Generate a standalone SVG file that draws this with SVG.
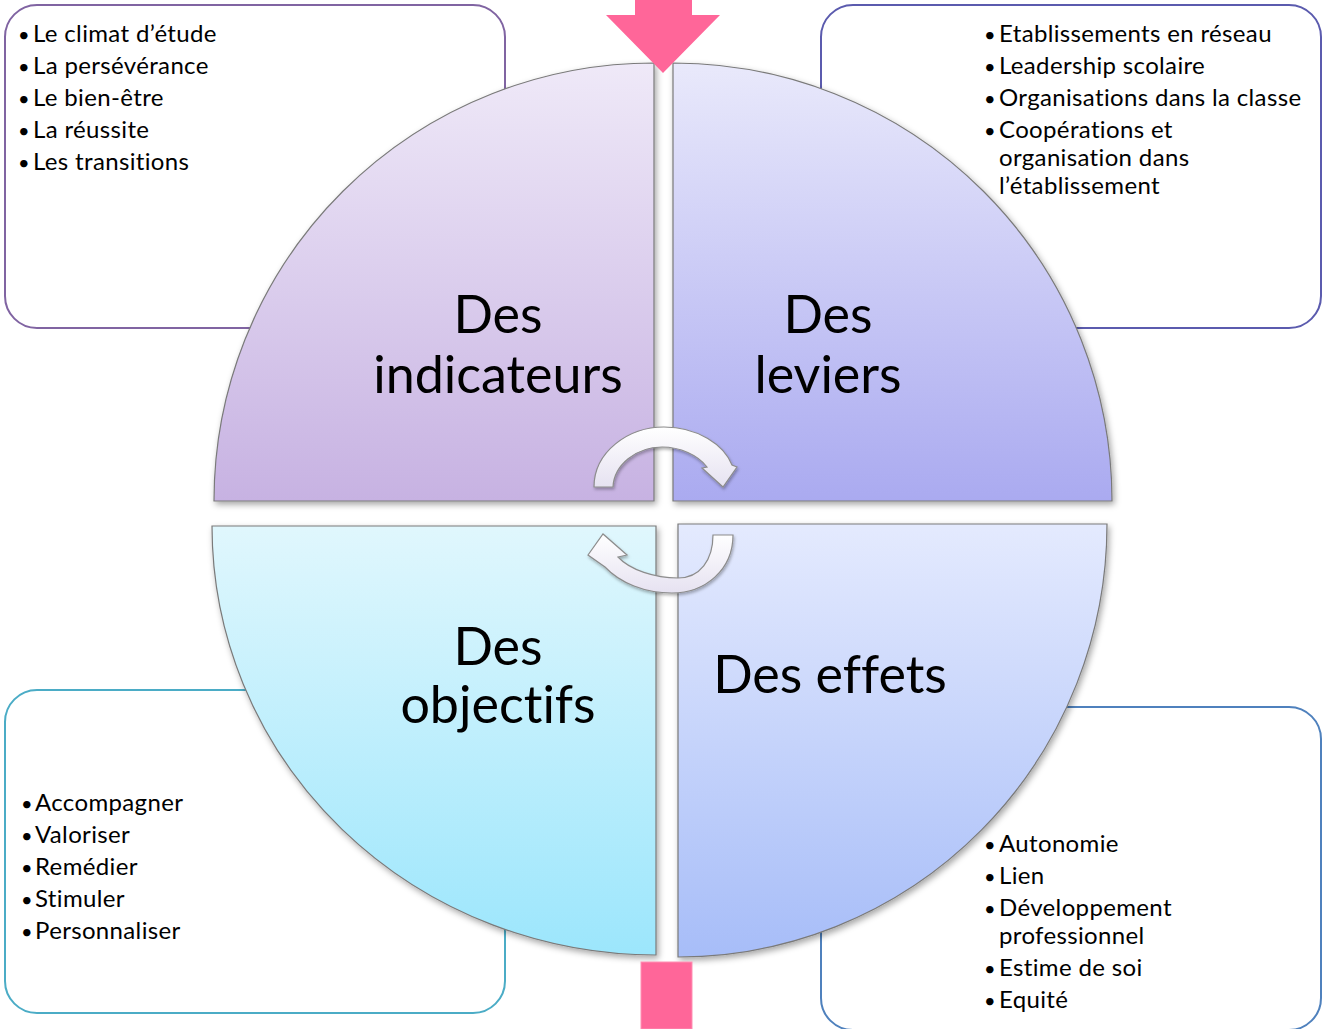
<svg xmlns="http://www.w3.org/2000/svg" width="1328" height="1029" viewBox="0 0 1328 1029">
<defs>
<linearGradient id="gTL" x1="0" y1="0" x2="0" y2="1"><stop offset="0" stop-color="#EFE9F8"/><stop offset="1" stop-color="#C7B2E2"/></linearGradient>
<linearGradient id="gTR" x1="0" y1="0" x2="0" y2="1"><stop offset="0" stop-color="#E9E9FB"/><stop offset="1" stop-color="#AAAAF0"/></linearGradient>
<linearGradient id="gBL" x1="0" y1="0" x2="0" y2="1"><stop offset="0" stop-color="#E0F7FD"/><stop offset="1" stop-color="#9CE6FC"/></linearGradient>
<linearGradient id="gBR" x1="0" y1="0" x2="0" y2="1"><stop offset="0" stop-color="#E4EAFE"/><stop offset="1" stop-color="#A7BDF8"/></linearGradient>
<linearGradient id="gArr" x1="0" y1="0" x2="0" y2="1"><stop offset="0" stop-color="#FFFFFF"/><stop offset="1" stop-color="#E6E2F1"/></linearGradient>
<filter id="sh" x="-10%" y="-10%" width="120%" height="120%"><feDropShadow dx="2" dy="3" stdDeviation="3" flood-color="#000" flood-opacity="0.35"/></filter>
<filter id="sh2" x="-20%" y="-20%" width="140%" height="140%"><feDropShadow dx="1" dy="2" stdDeviation="1.5" flood-color="#000" flood-opacity="0.3"/></filter>
</defs>
<style>
.box{fill:#FFFFFF;stroke-width:2}
.q{stroke:#7A7A7A;stroke-width:1.2;filter:url(#sh)}
.t{font-family:Lato,"Noto Sans",sans-serif;font-size:24px;letter-spacing:0.35px;fill:#000;font-variant-ligatures:none}
.b{font-family:Lato,"Noto Sans",sans-serif;font-size:20px;fill:#000}
.big{font-family:Lato,"Noto Sans",sans-serif;font-size:52px;fill:#000;text-anchor:middle;font-variant-ligatures:none}
.arr{fill:url(#gArr);stroke:#8C8C8C;stroke-width:1.2;filter:url(#sh2)}
.pink{fill:#FF6699}
</style>
<rect width="1328" height="1029" fill="#FFFFFF"/>

<g id="box-indicateurs">
<rect class="box" x="5" y="5" width="500" height="323" rx="32" stroke="#8064A2"/>
<text class="b" x="18" y="42">•</text><text class="t" x="33" y="42">Le climat d’étude</text>
<text class="b" x="18" y="74">•</text><text class="t" x="33" y="74">La persévérance</text>
<text class="b" x="18" y="106">•</text><text class="t" x="33" y="106">Le bien-être</text>
<text class="b" x="18" y="138">•</text><text class="t" x="33" y="138">La réussite</text>
<text class="b" x="18" y="170">•</text><text class="t" x="33" y="170">Les transitions</text>
</g>
<g id="box-leviers">
<rect class="box" x="821" y="5" width="500" height="323" rx="32" stroke="#5B5BAE"/>
<text class="b" x="984" y="42">•</text><text class="t" x="999" y="42">Etablissements en réseau</text>
<text class="b" x="984" y="74">•</text><text class="t" x="999" y="74">Leadership scolaire</text>
<text class="b" x="984" y="106">•</text><text class="t" x="999" y="106">Organisations dans la classe</text>
<text class="b" x="984" y="138">•</text><text class="t" x="999" y="138">Coopérations et</text>
<text class="t" x="999" y="166">organisation dans</text>
<text class="t" x="999" y="194">l’établissement</text>
</g>
<g id="box-objectifs">
<rect class="box" x="5" y="690" width="500" height="323" rx="32" stroke="#4BACC6"/>
<text class="b" x="21" y="811">•</text><text class="t" x="35" y="811">Accompagner</text>
<text class="b" x="21" y="843">•</text><text class="t" x="35" y="843">Valoriser</text>
<text class="b" x="21" y="875">•</text><text class="t" x="35" y="875">Remédier</text>
<text class="b" x="21" y="907">•</text><text class="t" x="35" y="907">Stimuler</text>
<text class="b" x="21" y="939">•</text><text class="t" x="35" y="939">Personnaliser</text>
</g>
<g id="box-effets">
<rect class="box" x="821" y="707" width="500" height="323" rx="32" stroke="#4F81BD"/>
<text class="b" x="984" y="852">•</text><text class="t" x="999" y="852">Autonomie</text>
<text class="b" x="984" y="884">•</text><text class="t" x="999" y="884">Lien</text>
<text class="b" x="984" y="916">•</text><text class="t" x="999" y="916">Développement</text>
<text class="t" x="999" y="944">professionnel</text>
<text class="b" x="984" y="976">•</text><text class="t" x="999" y="976">Estime de soi</text>
<text class="b" x="984" y="1008">•</text><text class="t" x="999" y="1008">Equité</text>
</g>

<g id="q-indicateurs">
<path class="q" fill="url(#gTL)" d="M654,501 L214,501 A440,438 0 0 1 654,63 Z"/>
<text class="big" x="498" y="333">Des</text>
<text class="big" x="498" y="393">indicateurs</text>
</g>
<g id="q-leviers">
<path class="q" fill="url(#gTR)" d="M673,501 L673,63 A439,438 0 0 1 1112,501 Z"/>
<text class="big" x="828" y="333">Des</text>
<text class="big" x="828" y="393">leviers</text>
</g>
<g id="q-objectifs">
<path class="q" fill="url(#gBL)" d="M656,526 L656,955 A444,429 0 0 1 212,526 Z"/>
<text class="big" x="498" y="665">Des</text>
<text class="big" x="498" y="723">objectifs</text>
</g>
<g id="q-effets">
<path class="q" fill="url(#gBR)" d="M678,524 L1107,524 A429,433 0 0 1 678,957 Z"/>
<text class="big" x="830" y="693">Des effets</text>
</g>

<g id="connectors">
<path class="pink" d="M635,0 L692,0 L692,15 L720,15 L663,73 L606,15 L635,15 Z"/>
<rect class="pink" x="641" y="962" width="51" height="67" stroke="#FF8FB3" stroke-width="1"/>
<path class="arr" d="M594,487 C594,452 628,427 664,427 C698,427 724,445 732,465 L737,467 L723,487 L702,468 L707,467 C698,455 680,447 662,447 C636,447 614,465 613,487 Z"/>
<path class="arr" d="M733,535 C733,570 705,593 672,593 C645,593 620,583 605,567 L588,555 L603,534 L627,555 L618,557 C630,570 655,578 678,578 C700,578 713,560 713,535 Z"/>
</g>
</svg>
